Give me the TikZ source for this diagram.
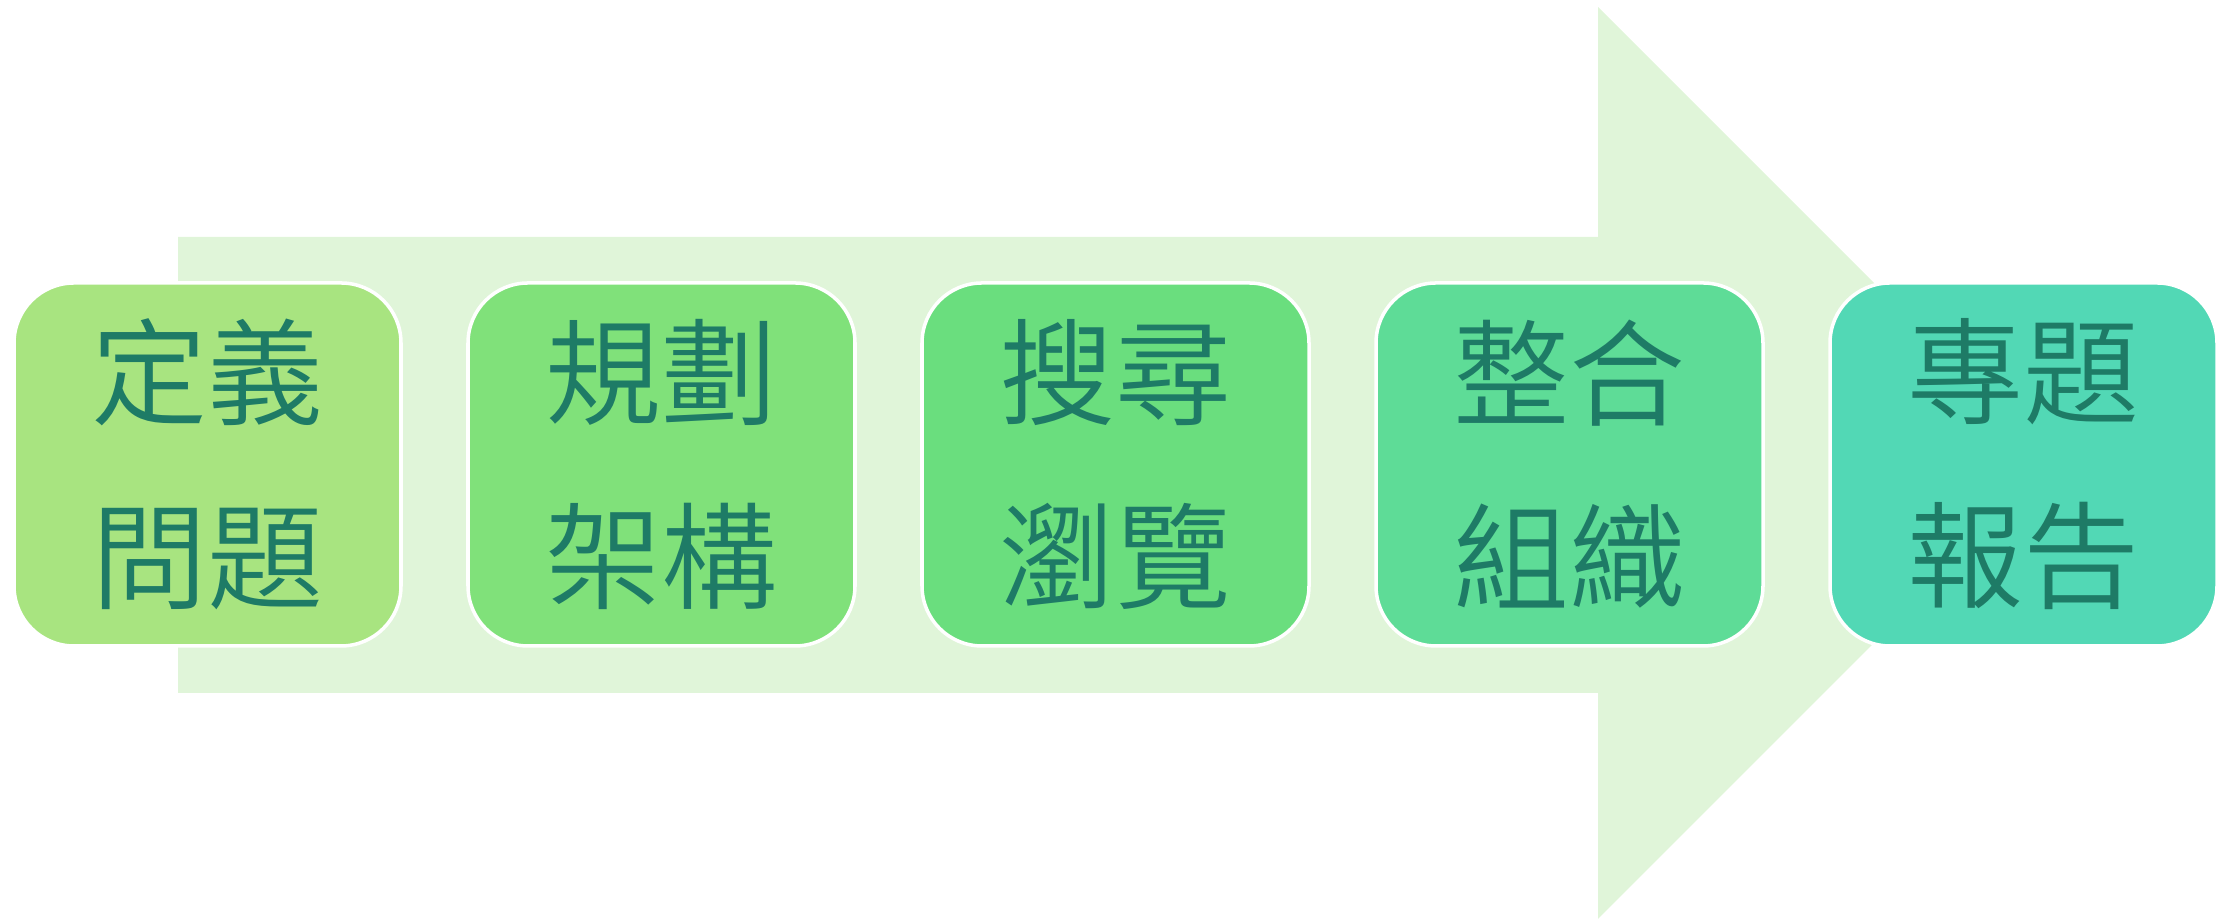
\documentclass[tikz,border=0pt]{standalone}
\usepackage{fontspec}
\IfFontExistsTF{Noto Sans CJK TC DemiLight}
  {\newfontfamily\tcfont{Noto Sans CJK TC DemiLight}}
  {\newfontfamily\tcfont{Noto Sans CJK TC}}
\usetikzlibrary{positioning}
\usetikzlibrary{backgrounds}

\definecolor{arrowfill}{RGB}{224,245,217}
\definecolor{stepone}{RGB}{168,228,128}
\definecolor{steptwo}{RGB}{128,225,122}
\definecolor{stepthree}{RGB}{106,222,126}
\definecolor{stepfour}{RGB}{94,220,151}
\definecolor{stepfive}{RGB}{82,216,181}
\definecolor{labeltext}{RGB}{30,123,102}

\tikzset{
  stepbox/.style={rectangle, rounded corners=0.6cm, draw=white, line width=1pt,
    outer sep=0pt, minimum width=3.87cm, minimum height=3.63cm, align=center,
    text=labeltext, font=\tcfont\fontsize{33}{52.4}\selectfont},
}

\begin{document}
\begin{tikzpicture}

    \useasboundingbox (0,0) rectangle (22.16,9.19);

    % Nodes
    \node[stepbox, fill=stepone] (box1) at (2.075,4.545) {定義\\問題};
    \node[stepbox, fill=steptwo, right=0.67cm of box1] (box2) {規劃\\架構};
    \node[stepbox, fill=stepthree, right=0.67cm of box2] (box3) {搜尋\\瀏覽};
    \node[stepbox, fill=stepfour, right=0.67cm of box3] (box4) {整合\\組織};
    \node[stepbox, fill=stepfive, right=0.67cm of box4] (box5) {專題\\報告};

    % Arrow
    \begin{scope}[on background layer]
      \fill[arrowfill] (1.78,6.82) -- (15.98,6.82) -- (15.98,9.12) -- (20.54,4.56)
        -- (15.98,0) -- (15.98,2.26) -- (1.78,2.26) -- cycle;
    \end{scope}

\end{tikzpicture}
\end{document}
